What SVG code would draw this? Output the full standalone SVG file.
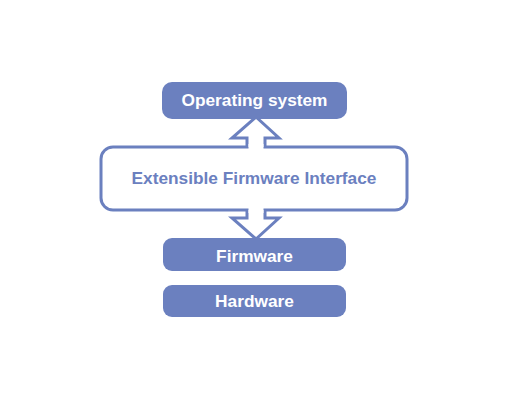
<svg xmlns="http://www.w3.org/2000/svg" width="523" height="400" viewBox="0 0 523 400">
<style>
.box{fill:#6b80bf;}
.lbl{font-family:"Liberation Sans",Arial,sans-serif;font-weight:bold;font-size:17.3px;text-anchor:middle;fill:#ffffff;}
.efi{fill:#6b80bf;}
.arr{fill:#ffffff;stroke:#6b80bf;stroke-width:3;stroke-linejoin:miter;}
</style>
<rect width="523" height="400" fill="#ffffff"/>
<g id="efi">
<rect x="101" y="147" width="306" height="63" rx="12" fill="#ffffff" stroke="#6b80bf" stroke-width="3"/>
<text class="lbl efi" x="254" y="184">Extensible Firmware Interface</text>
</g>
<g id="connectors">
<path class="arr" d="M247,147 L247,138 L232,138 L256,117 L279,138 L265,138 L265,147"/>
<rect x="248.5" y="144" width="15" height="6" fill="#ffffff"/>
<path class="arr" d="M247,210 L247,218 L232,218 L256,239 L279,218 L265,218 L265,210"/>
<rect x="248.5" y="207" width="15" height="6" fill="#ffffff"/>
</g>
<g id="os">
<rect class="box" x="162" y="82" width="185" height="37" rx="10"/>
<text class="lbl" x="254.5" y="106">Operating system</text>
</g>
<g id="firmware">
<rect class="box" x="163" y="238" width="183" height="33" rx="9"/>
<text class="lbl" x="254.5" y="262">Firmware</text>
</g>
<g id="hardware">
<rect class="box" x="163" y="285" width="183" height="32" rx="9"/>
<text class="lbl" x="254.5" y="307">Hardware</text>
</g>
</svg>
